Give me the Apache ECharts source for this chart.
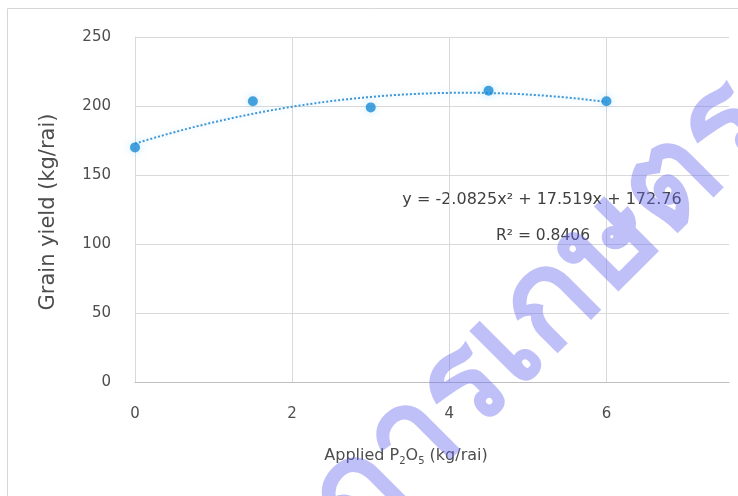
<!DOCTYPE html>
<html>
<head>
<meta charset="utf-8">
<script src="https://cdn.jsdelivr.net/npm/echarts@6/dist/echarts.min.js"></script>
<style>
  html, body { margin: 0; padding: 0; background: #ffffff; }
  #chart { width: 738px; height: 496px; }
</style>
</head>
<body>
<div id="chart"></div>
<script>
// Applied phosphate rate (kg P2O5 / rai) and measured grain yield (kg / rai)
const appliedP2O5 = [0, 1.5, 3, 4.5, 6];
const grainYield = [170, 203.5, 199, 211, 203.5];

// Polynomial trendline y = a*x^2 + b*x + c, as printed on the chart
const trendCoef = [-2.0825, 17.519, 172.76];
const trendLabel = 'y = -2.0825x² + 17.519x + 172.76';
const r2Label = 'R² = 0.8406';

const xTicks = [0, 2, 4, 6];
const yTicks = [0, 50, 100, 150, 200, 250];

const yTitle = 'Grain yield (kg/rai)';
const watermark = 'กรมวิชาการเกษตร';

// Trendline samples across the range of the measured rates
const trendPoints = [];
const xLo = appliedP2O5[0], xHi = appliedP2O5[appliedP2O5.length - 1];
for (let i = 0; i <= 60; i++) {
  const x = xLo + (xHi - xLo) * i / 60;
  trendPoints.push([x, trendCoef[0] * x * x + trendCoef[1] * x + trendCoef[2]]);
}

const FONT = '"DejaVu Sans", Verdana, sans-serif';
const GRID = '#d9d9d9';
const LABEL = '#4d4d4d';

const chart = echarts.init(document.getElementById('chart'), null, { renderer: 'canvas' });

chart.setOption({
  backgroundColor: '#ffffff',
  animation: false,
  grid: { left: 135, right: 9, top: 37, bottom: 114 },
  xAxis: {
    type: 'value',
    min: xTicks[0],
    max: 7.56,
    interval: xTicks[1] - xTicks[0],
    axisLine: { show: true, onZero: true, lineStyle: { color: '#bfbfbf', width: 1 } },
    axisTick: { show: false },
    axisLabel: {
      color: LABEL, fontFamily: FONT, fontSize: 15, margin: 25,
      showMaxLabel: false,
      formatter: v => (xTicks.indexOf(v) >= 0 ? String(v) : '')
    },
    splitLine: {
      show: true,
      lineStyle: { color: [GRID, GRID, GRID, GRID, 'rgba(0,0,0,0)'], width: 1 }
    }
  },
  yAxis: {
    type: 'value',
    min: yTicks[0],
    max: yTicks[yTicks.length - 1],
    interval: yTicks[1] - yTicks[0],
    axisLine: { show: true, lineStyle: { color: GRID, width: 1 } },
    axisTick: { show: false },
    axisLabel: { color: LABEL, fontFamily: FONT, fontSize: 15, margin: 24 },
    splitLine: { show: true, lineStyle: { color: GRID, width: 1 } }
  },
  series: [
    {
      name: 'trend',
      type: 'line',
      data: trendPoints,
      showSymbol: false,
      smooth: false,
      z: 2,
      lineStyle: {
        type: 'dotted', width: 2, color: '#3b97d6',
        shadowColor: 'rgba(80,190,255,0.35)', shadowBlur: 6
      }
    },
    {
      name: 'yield',
      type: 'scatter',
      data: appliedP2O5.map((x, i) => [x, grainYield[i]]),
      symbol: 'circle',
      symbolSize: 10,
      z: 3,
      itemStyle: {
        color: '#1a8bd6',
        shadowColor: 'rgba(90,200,255,0.45)', shadowBlur: 8
      }
    }
  ],
  graphic: [
    {
      type: 'rect', silent: true, z: -1,
      shape: { x: 7.5, y: 8.5, width: 900, height: 700 },
      style: { fill: 'none', stroke: '#d6d6d6', lineWidth: 1 }
    },
    {
      type: 'text', x: 542, y: 200, silent: true,
      style: { text: trendLabel, fill: '#404040', font: '16px ' + FONT, align: 'center', verticalAlign: 'middle' }
    },
    {
      type: 'text', x: 543, y: 236, silent: true,
      style: { text: r2Label, fill: '#404040', font: '15.5px ' + FONT, align: 'center', verticalAlign: 'middle' }
    },
    {
      type: 'text', x: 406, y: 457, silent: true,
      style: {
        text: '{a|Applied P}{s|2}{a|O}{s|5}{a| (kg/rai)}',
        align: 'center', verticalAlign: 'middle',
        rich: {
          a: { fill: LABEL, fontFamily: FONT, fontSize: 16, lineHeight: 18, verticalAlign: 'top' },
          s: { fill: LABEL, fontFamily: FONT, fontSize: 10, lineHeight: 8, verticalAlign: 'bottom' }
        }
      }
    },
    {
      type: 'text', x: 49, y: 212, rotation: Math.PI / 2, silent: true,
      style: { text: yTitle, fill: LABEL, font: '21px ' + FONT, align: 'center', verticalAlign: 'middle' }
    },
    {
      type: 'text', x: 752, y: 104, rotation: Math.PI / 4, silent: true, z: 100,
      style: { text: watermark, fill: 'rgba(105,105,238,0.42)', font: '600 132px sans-serif', align: 'right', verticalAlign: 'middle' }
    }
  ]
});
</script>
</body>
</html>
